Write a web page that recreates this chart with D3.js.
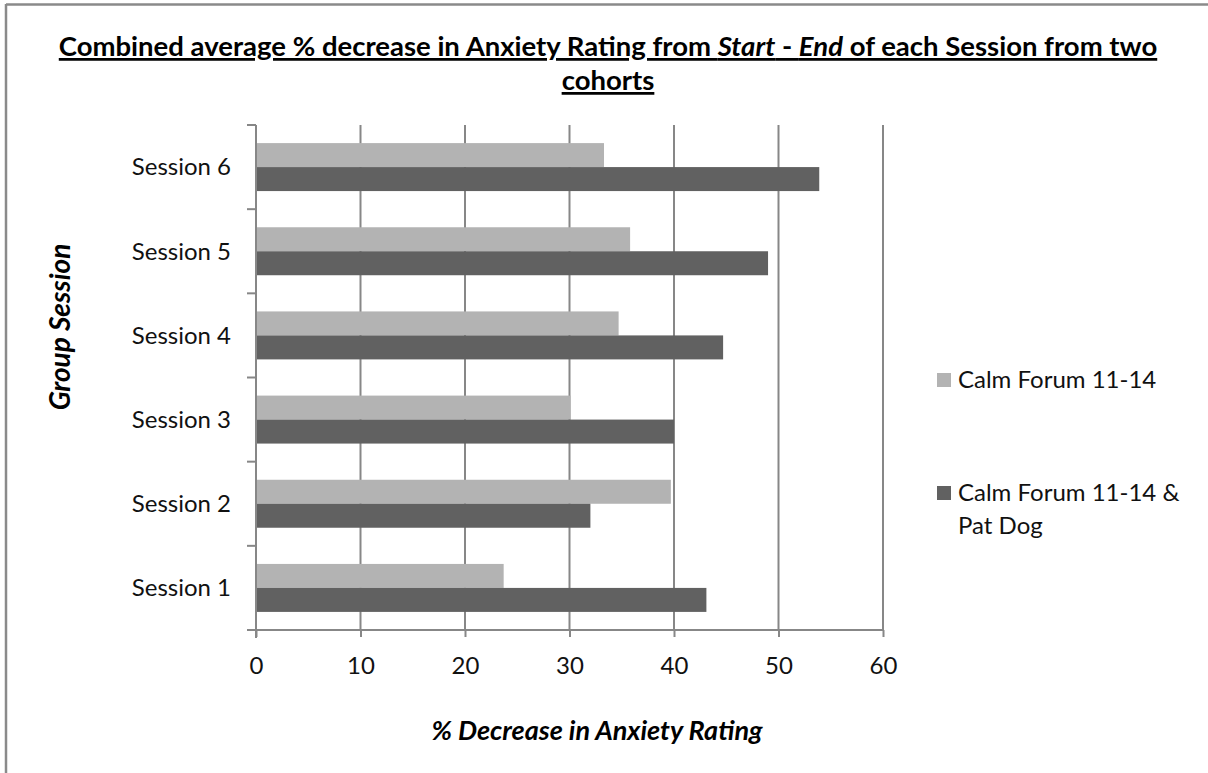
<!DOCTYPE html>
<html>
<head>
<meta charset="utf-8">
<script src="https://cdn.jsdelivr.net/npm/d3@7"></script>
<style>
  html, body { margin: 0; padding: 0; background: #fff; }
  svg { display: block; font-family: Lato, "Open Sans", sans-serif; }
</style>
</head>
<body>
<svg id="chart" width="1208" height="773"></svg>
<script>
// Sessions, top to bottom as drawn
const sessions = ["Session 6", "Session 5", "Session 4", "Session 3", "Session 2", "Session 1"];
const seriesNames = ["Calm Forum 11-14", "Calm Forum 11-14 & Pat Dog"];
// % decrease per session (same order as sessions)
const calmForum = [33.3, 35.8, 34.7, 30.1, 39.7, 23.7];
const calmForumPatDog = [53.9, 49.0, 44.7, 40.0, 32.0, 43.1];
const xTicks = [0, 10, 20, 30, 40, 50, 60];
const colors = ["#b3b3b3", "#616161"];

const svg = d3.select("#chart");

// outer frame (top and left edges)
svg.append("line").attr("x1", 6).attr("x2", 1208).attr("y1", 4.5).attr("y2", 4.5)
  .attr("stroke", "#8a8a8a").attr("stroke-width", 2.5);
svg.append("line").attr("x1", 6).attr("x2", 6).attr("y1", 4).attr("y2", 773)
  .attr("stroke", "#8a8a8a").attr("stroke-width", 2.5);

const plot = { left: 256, right: 883, top: 125, bottom: 630 };

const x = d3.scaleLinear().domain([0, 60]).range([plot.left, plot.right]);
const y = d3.scaleBand().domain(sessions).range([plot.top, plot.bottom])
  .paddingInner(0.43).paddingOuter(0.215);
const ySub = d3.scaleBand().domain(seriesNames).range([0, y.bandwidth()]);

const grid = "#878787";

// vertical gridlines
svg.append("g").selectAll("line").data(xTicks.slice(1)).join("line")
  .attr("x1", d => x(d)).attr("x2", d => x(d))
  .attr("y1", plot.top).attr("y2", plot.bottom)
  .attr("stroke", grid).attr("stroke-width", 2);

// bars
const rows = sessions.map((s, i) => ({ s, vals: [calmForum[i], calmForumPatDog[i]] }));
const g = svg.append("g").selectAll("g").data(rows).join("g")
  .attr("transform", d => `translate(0,${y(d.s)})`);
g.selectAll("rect").data(d => d.vals.map((v, k) => ({ v, k }))).join("rect")
  .attr("x", x(0))
  .attr("y", d => ySub(seriesNames[d.k]))
  .attr("width", d => x(d.v) - x(0))
  .attr("height", ySub.bandwidth())
  .attr("fill", d => colors[d.k]);

// x axis
const xAxis = svg.append("g").attr("transform", `translate(0,${plot.bottom})`)
  .call(d3.axisBottom(x).tickValues(xTicks).tickSize(7).tickPadding(20).tickSizeOuter(0));
xAxis.select(".domain").attr("stroke", grid).attr("stroke-width", 2)
  .attr("d", `M${plot.left - 9},0H${plot.right}`);
xAxis.selectAll(".tick line").attr("stroke", grid).attr("stroke-width", 2).attr("y1", 0);
xAxis.selectAll(".tick text").attr("fill", "#111").style("font-size", "24px")
  .style("font-family", "Lato, sans-serif");

// y axis with ticks at band boundaries
const yAxis = svg.append("g").attr("transform", `translate(${plot.left},0)`);
yAxis.append("line").attr("x1", 0).attr("x2", 0).attr("y1", plot.top).attr("y2", plot.bottom + 8)
  .attr("stroke", grid).attr("stroke-width", 2);
const step = y.step();
const boundaries = d3.range(sessions.length + 1).map(i => plot.top + i * step);
yAxis.selectAll("line.tk").data(boundaries).join("line").attr("class", "tk")
  .attr("x1", -9).attr("x2", 0).attr("y1", d => d).attr("y2", d => d)
  .attr("stroke", grid).attr("stroke-width", 2);
yAxis.selectAll("text").data(sessions).join("text")
  .attr("x", -25).attr("y", d => y(d) + y.bandwidth() / 2)
  .attr("dy", "0.35em").attr("text-anchor", "end")
  .attr("fill", "#111").style("font-size", "24px")
  .text(d => d);

// title
const title = svg.append("text").attr("x", 608).attr("text-anchor", "middle")
  .attr("fill", "#000").style("font-size", "27.5px").style("font-weight", "bold")
  .style("text-decoration", "underline");
const t1 = title.append("tspan").attr("x", 608).attr("y", 56);
t1.append("tspan").text("Combined average % decrease in Anxiety Rating from ");
t1.append("tspan").style("font-style", "italic").text("Start");
t1.append("tspan").text(" - ");
t1.append("tspan").style("font-style", "italic").text("End");
t1.append("tspan").text(" of each Session from two");
title.append("tspan").attr("x", 608).attr("y", 90).text("cohorts");

// axis titles
svg.append("text").attr("x", 597).attr("y", 740).attr("text-anchor", "middle")
  .style("font-size", "27px").style("font-weight", "bold").style("font-style", "italic")
  .attr("fill", "#000").text("% Decrease in Anxiety Rating");
svg.append("text").attr("transform", "translate(70,327) rotate(-90)")
  .attr("text-anchor", "middle")
  .style("font-size", "28px").style("font-weight", "bold").style("font-style", "italic")
  .attr("fill", "#000").text("Group Session");

// legend
const legend = svg.append("g").attr("transform", "translate(937,0)");
const legendItems = [
  { name: seriesNames[0], lines: ["Calm Forum 11-14"], y: 380 },
  { name: seriesNames[1], lines: ["Calm Forum 11-14 &", "Pat Dog"], y: 493 }
];
legendItems.forEach((d, i) => {
  legend.append("rect").attr("x", 0).attr("y", d.y - 7).attr("width", 14).attr("height", 14)
    .attr("fill", colors[i]);
  const t = legend.append("text").attr("fill", "#111").style("font-size", "24px");
  d.lines.forEach((ln, j) => {
    t.append("tspan").attr("x", 21).attr("y", d.y + j * 33).attr("dy", "0.35em").text(ln);
  });
});
</script>
</body>
</html>
